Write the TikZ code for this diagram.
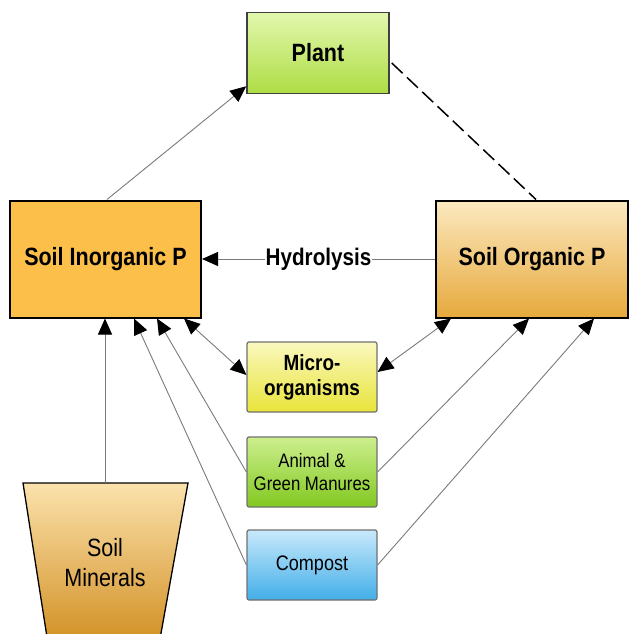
\documentclass[tikz,border=0pt]{standalone}
\usepackage{fontspec}
\setmainfont[FakeStretch=0.86]{Liberation Sans}
\usetikzlibrary{arrows.meta,calc}

\definecolor{inorgfill}{HTML}{FBBF4A}
\definecolor{orgtop}{HTML}{FCE9C0}
\definecolor{orgbot}{HTML}{E6A93C}
\definecolor{planttop}{HTML}{E2F7AE}
\definecolor{plantbot}{HTML}{AEDD44}
\definecolor{microtop}{HTML}{FAF8BE}
\definecolor{microbot}{HTML}{E8E43A}
\definecolor{manuretop}{HTML}{CDEF8E}
\definecolor{manurebot}{HTML}{82C820}
\definecolor{comptop}{HTML}{C8E9FB}
\definecolor{compbot}{HTML}{42AEE8}
\definecolor{mintop}{HTML}{FBE2AC}
\definecolor{minbot}{HTML}{D08C1E}
\definecolor{srcline}{HTML}{707070}
\definecolor{flowline}{HTML}{7A7A7A}

\tikzset{
  pool/.style={draw=black, line width=2pt, minimum width=191pt, minimum height=117pt,
    inner sep=0pt, font=\fontsize{25}{30}\selectfont\bfseries},
  src/.style={draw=srcline, line width=1.2pt, rounded corners=2pt, minimum width=130pt,
    minimum height=70pt, inner sep=0pt, align=center},
  flow/.style={draw=flowline, line width=0.9pt, -{Triangle[length=16pt,width=14pt,color=black]}},
  flowboth/.style={draw=flowline, line width=0.9pt,
    {Triangle[length=16pt,width=14pt,color=black]}-{Triangle[length=16pt,width=14pt,color=black]}},
}

\begin{document}
\begin{tikzpicture}[x=1pt,y=-1pt]
  \useasboundingbox (0,0) rectangle (629,634);
  \clip (0,0) rectangle (629,634);

  % pools
  \node[pool, fill=inorgfill] (inorg) at (105.5,259) {Soil Inorganic P};
  \node[pool, shading=axis, top color=orgtop, bottom color=orgbot, minimum width=192pt] (org) at (532,259) {Soil Organic P};
  \node[draw=black!75, line width=1.5pt, minimum width=142pt, minimum height=81pt, inner sep=0pt,
    top color=planttop, bottom color=plantbot, font=\fontsize{25}{30}\selectfont\bfseries] (plant) at (318,53) {Plant};

  % sources
  \node[src, top color=microtop, bottom color=microbot, font=\fontsize{22}{25}\selectfont\bfseries] (micro) at (312,377) {Micro-\\organisms};
  \node[src, top color=manuretop, bottom color=manurebot, font=\fontsize{19.5}{23}\selectfont] (manure) at (312,472) {Animal \&\\Green Manures};
  \node[src, top color=comptop, bottom color=compbot, font=\fontsize{21}{25}\selectfont] (compost) at (312,565) {Compost};

  % soil minerals
  \filldraw[draw=black, line width=1.3pt, top color=mintop, bottom color=minbot]
    (23,483) -- (188,483) -- (158,650) -- (49,650) -- cycle;
  \node[align=center, font=\fontsize{25}{30}\selectfont] (minerals) at (105,563) {Soil\\Minerals};
  \coordinate (minbase) at (105,483);

  % uptake and return
  \draw[flow] ($(inorg.north)+(1.5,0)$) -- ($(plant.south west)+(0,-8)$);
  \draw[black, line width=1.5pt, dash pattern=on 15pt off 6pt] ($(plant.east)+(2,10)$) -- ($(org.north)+(4,0)$);
  \draw[flow] (org.west) -- node[fill=white, inner xsep=1pt, inner ysep=0pt,
    font=\fontsize{24}{28}\selectfont\bfseries] {Hydrolysis} (inorg.east);

  % into inorganic P
  \draw[flow] (minbase) -- (inorg.south -| minbase);
  \draw[flow] (compost.west) -- ($(inorg.south west)+(125,0)$);
  \draw[flow] (manure.west) -- ($(inorg.south west)+(148,0)$);
  \draw[flowboth] ($(inorg.south west)+(175,0)$) -- ($(micro.west)+(0,-2)$);

  % into organic P
  \draw[flowboth] ($(micro.east)+(0,-5)$) -- ($(org.south west)+(16,0)$);
  \draw[flow] (manure.east) -- ($(org.south west)+(94,0)$);
  \draw[flow] (compost.east) -- ($(org.south west)+(159,0)$);
\end{tikzpicture}
\end{document}
